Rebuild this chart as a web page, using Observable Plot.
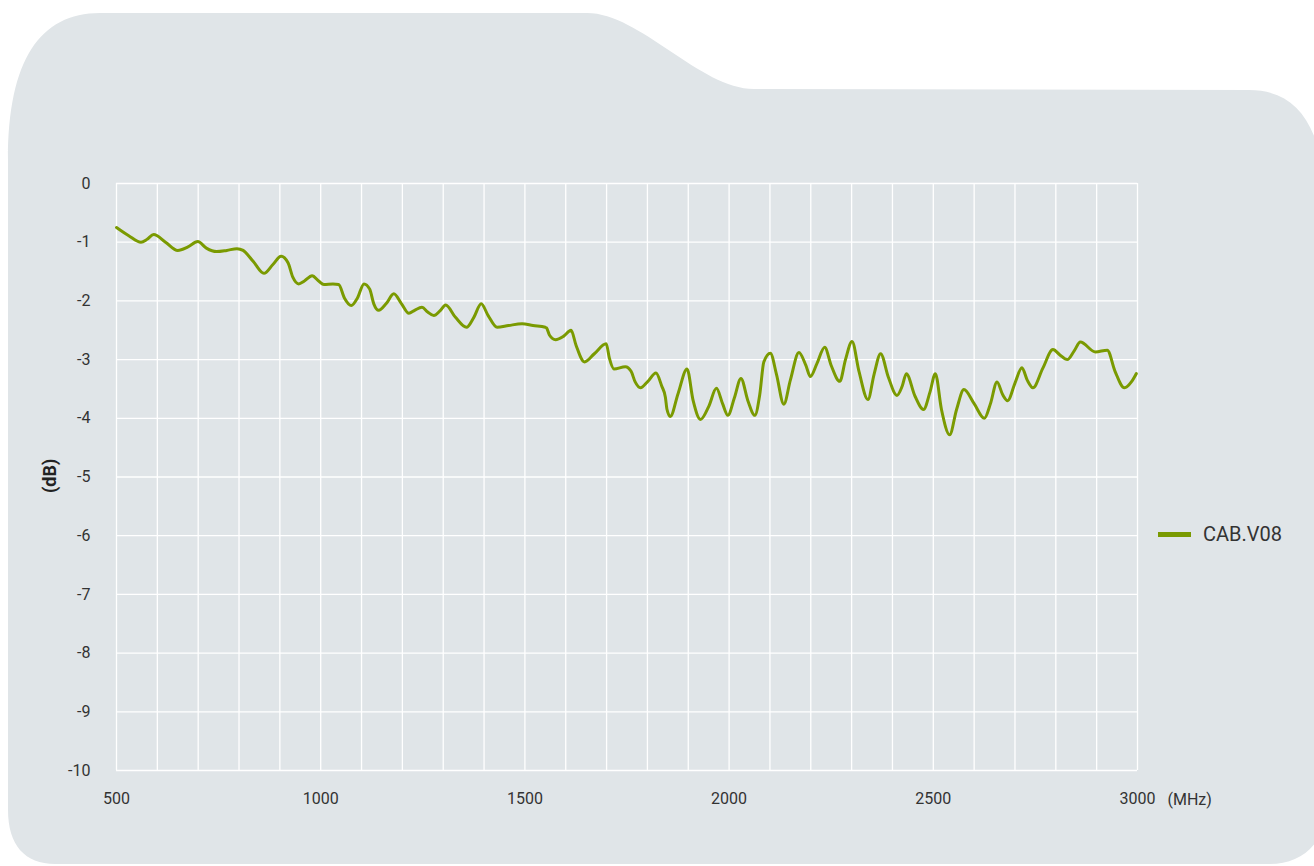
<!DOCTYPE html>
<html>
<head>
<meta charset="utf-8">
<script src="https://cdn.jsdelivr.net/npm/d3@7"></script>
<script src="https://cdn.jsdelivr.net/npm/@observablehq/plot@0.6"></script>
<style>
  html, body { margin: 0; padding: 0; background: #ffffff; }
  #wrap { position: relative; width: 1314px; height: 866px; overflow: hidden; }
  #bg { position: absolute; left: 0; top: 0; }
  #chart { position: absolute; left: 0; top: 0; }
  #legend { position: absolute; left: 1158px; top: 522px; display: flex; align-items: center;
            font-family: Roboto, sans-serif; font-size: 20px; color: #333; }
  #legend .sw { width: 33px; height: 5px; background: #7a9a01; margin-right: 12px; }
</style>
</head>
<body>
<div id="wrap">
  <svg id="bg" width="1314" height="866">
    <path d="M 8,160 C 8,60 40,13 100,13 L 587,13 C 640,13 700,89 754,89 L 1249,90 C 1300,90 1325,130 1325,210 L 1325,810 C 1325,845 1300,864 1270,864 L 55,864 C 25,864 8,845 8,810 Z" fill="#e0e5e8"/>
  </svg>
  <div id="chart"></div>
  <div id="legend"><div class="sw"></div><span>CAB.V08</span></div>
</div>
<script>
const freq = [500,530,560,575,591,620,650,675,699,720,745,770,795,810,835,861,883,903,920,932,946,960,979,995,1008,1030,1044,1058,1075,1090,1106,1120,1130,1142,1160,1179,1198,1216,1230,1248,1262,1277,1292,1306,1330,1357,1375,1393,1410,1432,1460,1493,1520,1550,1553,1560,1575,1595,1613,1625,1646,1670,1699,1707,1718,1746,1760,1770,1783,1800,1821,1835,1844,1848,1856,1875,1897,1912,1930,1950,1969,1984,1997,2013,2029,2046,2063,2075,2085,2101,2116,2134,2150,2171,2188,2199,2215,2234,2250,2271,2285,2301,2318,2340,2355,2371,2390,2411,2424,2434,2455,2476,2492,2505,2520,2540,2557,2575,2600,2625,2640,2656,2670,2682,2700,2717,2730,2744,2768,2793,2810,2828,2845,2860,2897,2926,2945,2968,2985,2997];
const loss = [-0.75,-0.89,-1.00,-0.95,-0.87,-1.00,-1.14,-1.08,-0.99,-1.10,-1.16,-1.14,-1.11,-1.14,-1.33,-1.53,-1.38,-1.24,-1.35,-1.60,-1.71,-1.66,-1.57,-1.66,-1.72,-1.71,-1.72,-1.95,-2.08,-1.95,-1.71,-1.80,-2.05,-2.16,-2.05,-1.88,-2.05,-2.21,-2.16,-2.11,-2.19,-2.25,-2.17,-2.07,-2.28,-2.45,-2.28,-2.05,-2.25,-2.45,-2.42,-2.39,-2.42,-2.45,-2.46,-2.58,-2.66,-2.60,-2.50,-2.75,-3.04,-2.90,-2.73,-2.98,-3.16,-3.12,-3.20,-3.38,-3.48,-3.38,-3.23,-3.45,-3.64,-3.85,-3.97,-3.58,-3.16,-3.70,-4.02,-3.80,-3.49,-3.75,-3.95,-3.65,-3.32,-3.70,-3.95,-3.60,-3.04,-2.89,-3.25,-3.76,-3.35,-2.88,-3.10,-3.29,-3.07,-2.79,-3.10,-3.37,-3.00,-2.69,-3.20,-3.68,-3.25,-2.90,-3.30,-3.61,-3.45,-3.24,-3.62,-3.85,-3.55,-3.24,-3.85,-4.28,-3.85,-3.51,-3.75,-4.00,-3.75,-3.38,-3.60,-3.70,-3.40,-3.14,-3.35,-3.48,-3.15,-2.83,-2.92,-3.00,-2.85,-2.70,-2.87,-2.84,-3.20,-3.48,-3.38,-3.24];
const seriesName = "CAB.V08";
const xLabelTicks = [500, 1000, 1500, 2000, 2500, 3000];
const xGridTicks = [500,600,700,800,900,1000,1100,1200,1300,1400,1500,1600,1700,1800,1900,2000,2100,2200,2300,2400,2500,2600,2700,2800,2900,3000];
const yTicks = [0,-1,-2,-3,-4,-5,-6,-7,-8,-9,-10];
const xUnit = "(MHz)";
const yUnit = "(dB)";

const data = freq.map((f, i) => ({f, v: loss[i], s: seriesName}));

const chart = Plot.plot({
  width: 1314,
  height: 866,
  marginLeft: 116,
  marginRight: 177,
  marginTop: 183,
  marginBottom: 96,
  style: {background: "transparent", fontFamily: "'Liberation Sans Narrow', Roboto, sans-serif", fontSize: "16px", color: "#333"},
  x: {domain: [500, 3000], ticks: xLabelTicks, tickSize: 0, tickPadding: 22, label: null, tickFormat: d => String(d)},
  y: {domain: [-10, 0], ticks: yTicks, tickSize: 0, tickPadding: 26, label: null, tickFormat: d => String(d)},
  marks: [
    Plot.ruleX(xGridTicks, {x: d => d, stroke: "#ffffff", strokeWidth: 1.3}),
    Plot.ruleY(yTicks, {y: d => d, stroke: "#ffffff", strokeWidth: 1.3}),
    Plot.line(data, {x: "f", y: "v", stroke: "#7a9a01", strokeWidth: 3, curve: "monotone-x"}),
    Plot.text([xUnit], {x: 3000, y: -10, text: d => d, dx: 30, dy: 29, textAnchor: "start", fill: "#333", fontSize: 16}),
    Plot.text([yUnit], {y: () => -5, frameAnchor: "left", text: d => d, dx: -66, dy: 16, rotate: -90, fontWeight: "bold", fill: "#222", fontSize: 18, fontFamily: "Roboto, sans-serif"})
  ]
});
document.getElementById("chart").appendChild(chart);
</script>
</body>
</html>
